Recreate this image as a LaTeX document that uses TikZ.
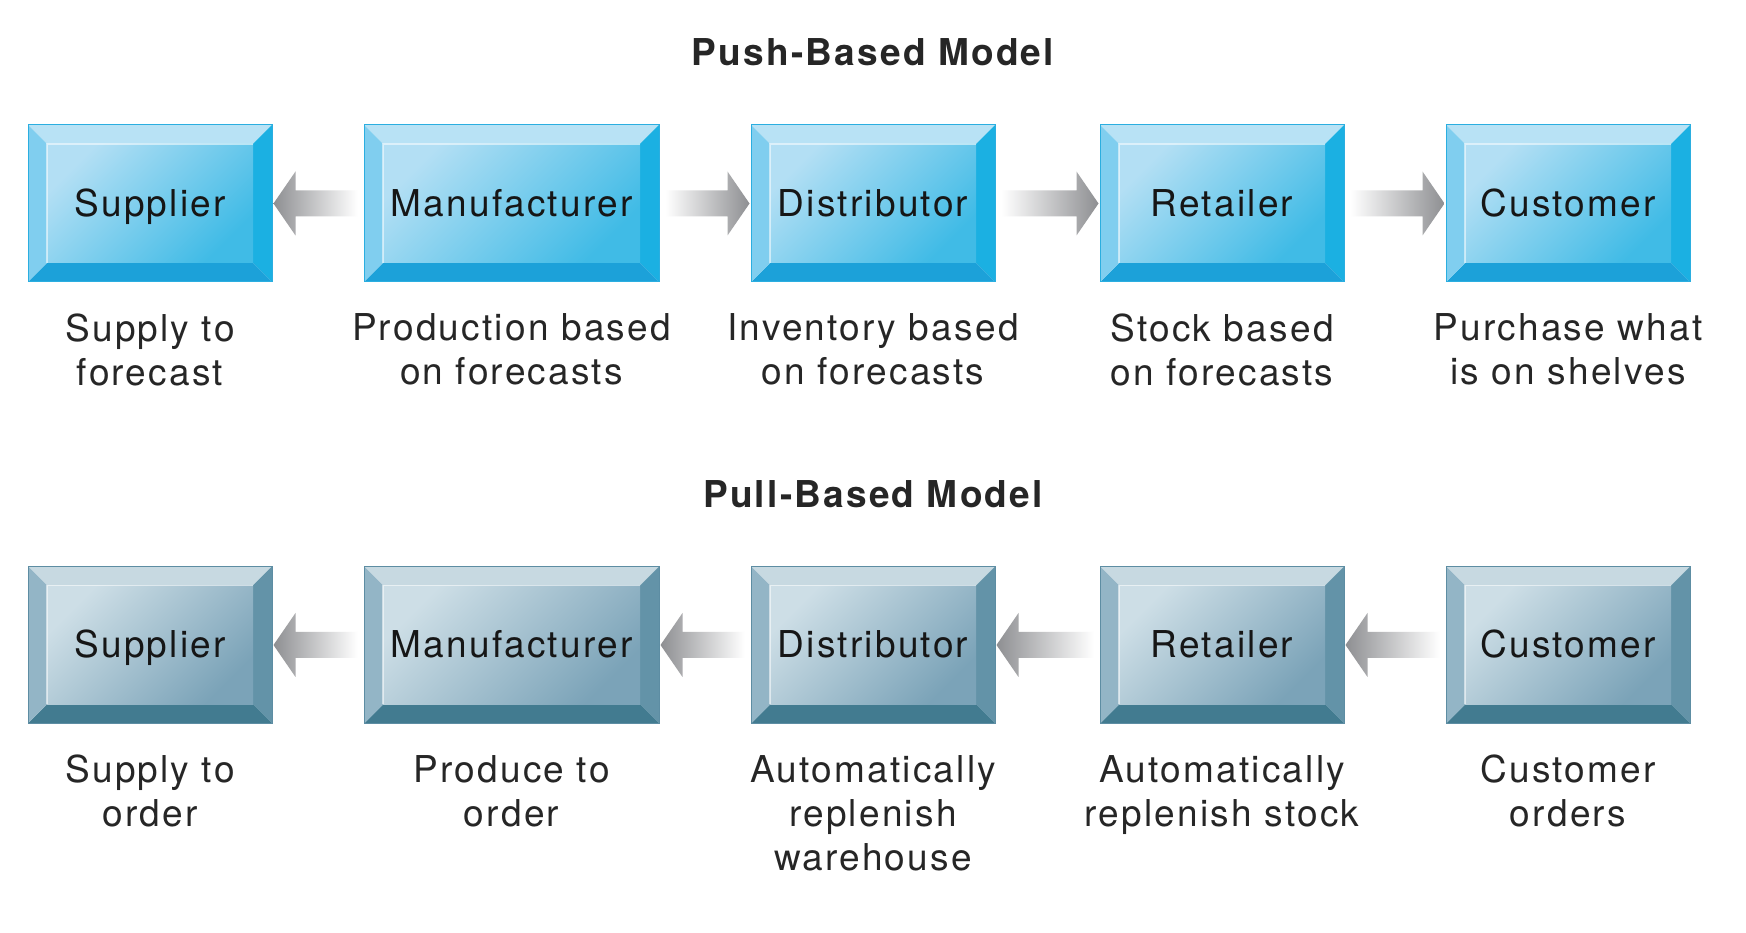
\documentclass[tikz,border=0pt]{standalone}
\usepackage{fontspec}
\setmainfont{TeX Gyre Heros}[LetterSpace=6]
\usetikzlibrary{positioning,calc}

\definecolor{pushtop}{HTML}{B8E2F5}
\definecolor{pushleft}{HTML}{80CEEF}
\definecolor{pushright}{HTML}{1BB0E2}
\definecolor{pushbot}{HTML}{1CA1D9}
\definecolor{pushhi}{HTML}{B3DFF4}
\definecolor{pushlo}{HTML}{40BBE6}
\definecolor{pushedge}{HTML}{2BAEE0}
\definecolor{pulltop}{HTML}{C7D9E1}
\definecolor{pullleft}{HTML}{93B5C6}
\definecolor{pullright}{HTML}{6393A8}
\definecolor{pullbot}{HTML}{427B90}
\definecolor{pullhi}{HTML}{CDDEE6}
\definecolor{pulllo}{HTML}{7BA3B8}
\definecolor{pulledge}{HTML}{5D8DA3}
\definecolor{flowgray}{HTML}{8E8F92}
\definecolor{boxtext}{HTML}{161616}
\definecolor{labtext}{HTML}{262626}

% shaded arrow: #1 tail anchor, #2 tip anchor, #3 = 1 (right) or -1 (left)
\newcommand{\flow}[3]{%
  \shade[flow#3] ($(#1)+({6*#3},13)$) -- ($(#2)+({-23*#3},13)$) -- ($(#2)+({-23*#3},32)$)
    -- ($(#2)+({-1*#3},0)$) -- ($(#2)+({-23*#3},-32)$) -- ($(#2)+({-23*#3},-13)$)
    -- ($(#1)+({6*#3},-13)$) -- cycle;}

\begin{document}
\begin{tikzpicture}[x=1pt,y=1pt,font=\fontsize{37}{44}\selectfont,
    bevel/.style={path picture={
      \path (path picture bounding box.north west) coordinate (o1)
            (path picture bounding box.north east) coordinate (o2)
            (path picture bounding box.south east) coordinate (o3)
            (path picture bounding box.south west) coordinate (o4);
      \path ($(o1)+(19pt,-19pt)$) coordinate (i1) ($(o2)+(-19pt,-19pt)$) coordinate (i2)
            ($(o3)+(-19pt,19pt)$) coordinate (i3) ($(o4)+(19pt,19pt)$) coordinate (i4);
      \fill[#1top] (o1) -- (o2) -- (i2) -- (i1) -- cycle;
      \fill[#1right] (o2) -- (o3) -- (i3) -- (i2) -- cycle;
      \fill[#1bot] (o3) -- (o4) -- (i4) -- (i3) -- cycle;
      \fill[#1left] (o4) -- (o1) -- (i1) -- (i4) -- cycle;
      \shade[top color=#1hi, bottom color=#1lo, shading angle=45] (i1) rectangle (i3);
      \draw[white, opacity=.55, line width=1.5pt] (i4) -- (i1) -- (i2);
    }},
    box/.style={rectangle, minimum width=244pt, minimum height=157pt, inner sep=0pt,
      text height=26pt, text depth=0pt, draw=#1edge, line width=1pt, text=boxtext, bevel=#1},
    push box/.style={box=push},
    pull box/.style={box=pull},
    lab/.style={align=center, inner sep=0pt, text=labtext},
    title/.style={font=\bfseries\fontsize{37}{44}\selectfont, inner sep=0pt, text=labtext},
    flow1/.style={left color=white, right color=flowgray},
    flow-1/.style={left color=flowgray, right color=white}]
  \path[use as bounding box, fill=white] (0,0) rectangle (1746,932);

  % push row
  \node[push box]                                  (s1) at (150,728.5) {Supplier};
  \node[push box, minimum width=295pt, right=91pt of s1] (m1) {Manufacturer};
  \node[push box, right=91pt of m1]                (d1) {Distributor};
  \node[push box, right=104pt of d1]               (r1) {Retailer};
  \node[push box, right=101pt of r1]               (c1) {Customer};
  \node[title, above=58pt of d1] (pushT) {Push-Based Model};

  \node[lab, below=31pt of s1] (ls1) {Supply to\\forecast};
  \node[lab, below=31pt of m1] (lm1) {Production based\\on forecasts};
  \node[lab, below=31pt of d1] (ld1) {Inventory based\\on forecasts};
  \node[lab, below=31pt of r1] (lr1) {Stock based\\on forecasts};
  \node[lab, below=31pt of c1] (lc1) {Purchase what\\is on shelves};

  \flow{m1.west}{s1.east}{-1}
  \foreach \a/\b in {m1/d1,d1/r1,r1/c1} \flow{\a.east}{\b.west}{1};

  % pull row
  \node[pull box]                                  (s2) at (150,287) {Supplier};
  \node[pull box, minimum width=295pt, right=91pt of s2] (m2) {Manufacturer};
  \node[pull box, right=91pt of m2]                (d2) {Distributor};
  \node[pull box, right=104pt of d2]               (r2) {Retailer};
  \node[pull box, right=101pt of r2]               (c2) {Customer};
  \node[title, above=58pt of d2] (pullT) {Pull-Based Model};

  \node[lab, below=31pt of s2] (ls2) {Supply to\\order};
  \node[lab, below=31pt of m2] (lm2) {Produce to\\order};
  \node[lab, below=31pt of d2] (ld2) {Automatically\\replenish\\warehouse};
  \node[lab, below=31pt of r2] (lr2) {Automatically\\replenish stock};
  \node[lab, below=31pt of c2] (lc2) {Customer\\orders};

  \foreach \a/\b in {m2/s2,d2/m2,r2/d2,c2/r2} \flow{\a.west}{\b.east}{-1};
\end{tikzpicture}
\end{document}
